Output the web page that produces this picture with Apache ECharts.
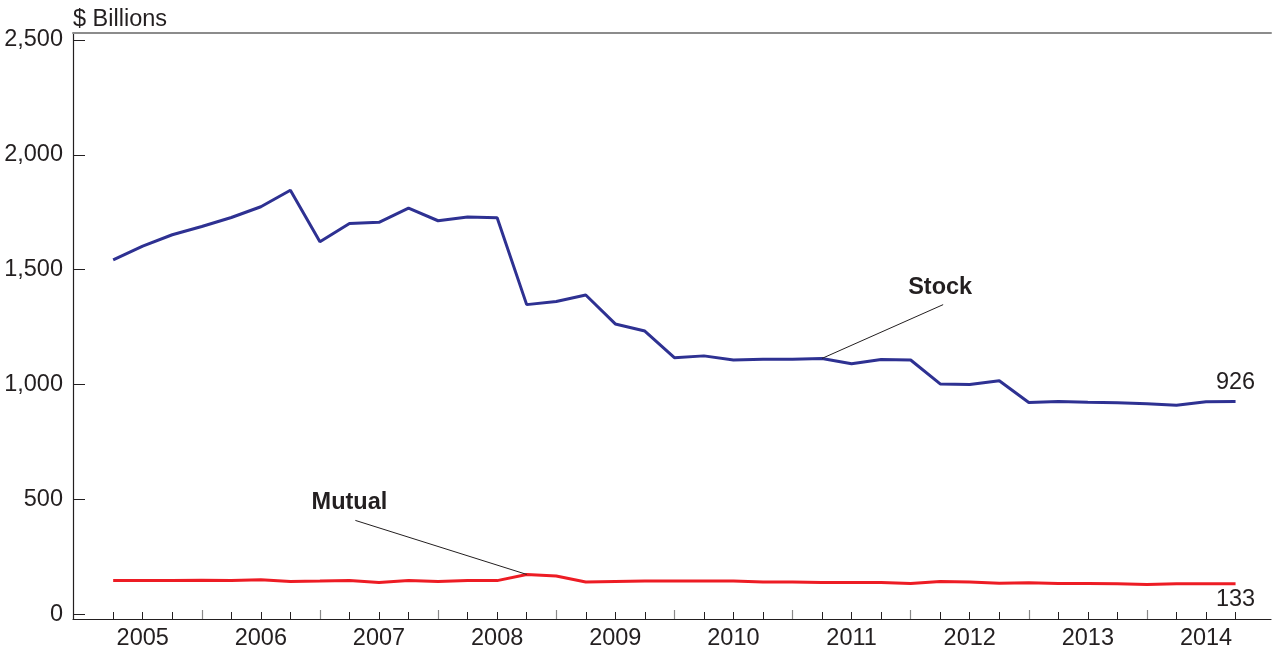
<!DOCTYPE html>
<html>
<head>
<meta charset="utf-8">
<script src="https://cdn.jsdelivr.net/npm/echarts@6/dist/echarts.min.js"></script>
<style>
  html, body { margin:0; padding:0; background:#fff; }
  #chart { width:1273px; height:651px; }
</style>
</head>
<body>
<div id="chart"></div>
<script>
// quarterly, 2005 Q1 .. 2014 Q3
const years = [2005, 2006, 2007, 2008, 2009, 2010, 2011, 2012, 2013, 2014];
const stock = [1543, 1603, 1652, 1688, 1727, 1774, 1846, 1622, 1701, 1706, 1768, 1713, 1729, 1726,
  1348, 1362, 1390, 1264, 1233, 1117, 1125, 1107, 1110, 1110, 1114, 1091, 1109, 1107,
  1003, 1000, 1017, 922, 926, 923, 921, 917, 910, 925, 926];
const mutual = [148, 148, 148, 149, 148, 151, 143, 145, 148, 139, 148, 143, 148, 147,
  174, 167, 141, 143, 145, 145, 145, 145, 141, 141, 139, 139, 139, 135,
  143, 141, 136, 138, 135, 135, 133, 130, 133, 133, 133];
const yTicks = [0, 500, 1000, 1500, 2000, 2500];

const ink = '#231f20';
const font = '"Liberation Sans", Arial, sans-serif';
const fs = 23.5;
const last = stock.length - 1;

const quarterIdx = stock.map((_, i) => i);
const yearEnds = quarterIdx.filter(i => i % 4 === 3);
const yearMids = years.map((_, k) => 1 + 4 * k);

const chart = echarts.init(document.getElementById('chart'));

const hiddenPt = { symbol: 'circle', symbolSize: 1, itemStyle: { color: 'rgba(0,0,0,0)' } };
function txt(name, coord, opts) {
  return Object.assign({ name, coord, value: name }, hiddenPt, {
    label: Object.assign({ show: true, position: 'inside', formatter: name, color: ink, fontFamily: font, fontSize: fs }, opts)
  });
}

chart.setOption({
  animation: false,
  backgroundColor: '#fff',
  grid: { left: 73, right: 2, top: 33, bottom: 32, outerBoundsMode: 'none', containLabel: false },
  xAxis: [
    {
      type: 'value', min: -1.36, max: 39.2, position: 'bottom',
      axisLine: { show: true, onZero: false, lineStyle: { color: ink, width: 1.2 } },
      axisTick: { show: true, inside: true, length: 7, customValues: quarterIdx.filter(i => i % 4 !== 3), lineStyle: { color: ink } },
      axisLabel: { show: true, customValues: yearMids, margin: 8, color: ink, fontFamily: font, fontSize: fs,
        formatter: v => String(years[Math.round((v - 1) / 4)]) },
      splitLine: { show: false }
    },
    {
      type: 'value', min: -1.36, max: 39.2, position: 'bottom',
      axisLine: { show: false, onZero: false },
      axisTick: { show: true, inside: true, length: 9, customValues: yearEnds, lineStyle: { color: '#8a8a8a', width: 1.2 } },
      axisLabel: { show: false },
      splitLine: { show: false }
    },
    {
      type: 'value', min: -1.36, max: 39.2, position: 'top',
      axisLine: { show: true, onZero: false, lineStyle: { color: '#8c8c8c', width: 2 } },
      axisTick: { show: false }, axisLabel: { show: false }, splitLine: { show: false }
    }
  ],
  yAxis: {
    type: 'value', min: -20, max: 2530,
    name: '$ Billions', nameLocation: 'end', nameGap: 1,
    nameTextStyle: { align: 'left', color: ink, fontFamily: font, fontSize: fs },
    axisLine: { show: true, onZero: false, lineStyle: { color: ink, width: 1.2 } },
    axisTick: { show: true, inside: true, length: 12, customValues: yTicks, lineStyle: { color: ink } },
    axisLabel: { customValues: yTicks, margin: 10, color: ink, fontFamily: font, fontSize: fs,
      formatter: v => v.toLocaleString('en-US') },
    splitLine: { show: false }
  },
  series: [
    {
      name: 'Stock', type: 'line', xAxisIndex: 0,
      data: stock.map((v, i) => [i, v]),
      symbol: 'none', lineStyle: { color: '#2e3192', width: 3 },
      markLine: {
        silent: true, symbol: 'none', label: { show: false },
        lineStyle: { color: ink, width: 1, type: 'solid' },
        data: [[{ coord: [24, stock[24]] }, { coord: [28.1, 1348] }]]
      },
      markPoint: {
        data: [
          txt('Stock', [28.0, 1421], { fontWeight: 'bold' }),
          txt(String(stock[last]), [last, stock[last]], { offset: [0, -19] })
        ]
      },
      z: 3
    },
    {
      name: 'Mutual', type: 'line', xAxisIndex: 0,
      data: mutual.map((v, i) => [i, v]),
      symbol: 'none', lineStyle: { color: '#ed1c24', width: 3 },
      markLine: {
        silent: true, symbol: 'none', label: { show: false },
        lineStyle: { color: ink, width: 1, type: 'solid' },
        data: [[{ coord: [14, mutual[14]] }, { coord: [8.2, 409] }]]
      },
      markPoint: {
        data: [
          txt('Mutual', [8.0, 487], { fontWeight: 'bold' }),
          txt(String(mutual[last]), [last, mutual[last]], { offset: [0, 16] })
        ]
      },
      z: 3
    }
  ]
});
</script>
</body>
</html>
